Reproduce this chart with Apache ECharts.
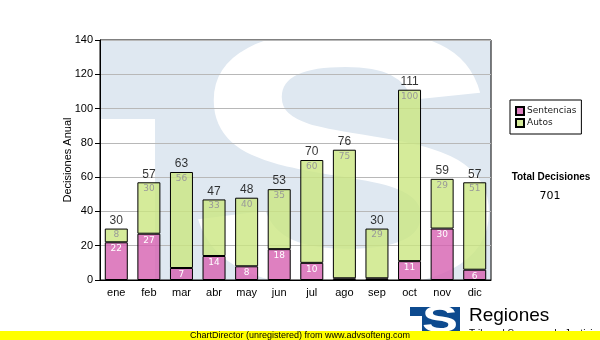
<!DOCTYPE html>
<html>
<head>
<meta charset="utf-8">
<script src="https://cdn.jsdelivr.net/npm/echarts@6/dist/echarts.min.js"></script>
<style>
  html, body { margin: 0; padding: 0; background: #fff; }
  #chart { width: 600px; height: 340px; }
</style>
</head>
<body>
<div id="chart"></div>
<script>
// Monthly decisions, split into sentencias and autos
const months = ['ene', 'feb', 'mar', 'abr', 'may', 'jun', 'jul', 'ago', 'sep', 'oct', 'nov', 'dic'];
const sentencias = [22, 27, 7, 14, 8, 18, 10, 1, 1, 11, 30, 6];
const autos = [8, 30, 56, 33, 40, 35, 60, 75, 29, 100, 29, 51];
const yTicks = [0, 20, 40, 60, 80, 100, 120, 140];

const totals = months.map((m, i) => sentencias[i] + autos[i]);
const grandTotal = totals.reduce((a, b) => a + b, 0);

const PINK = 'rgba(214, 96, 176, 0.8)';
const GREEN = 'rgba(202, 230, 129, 0.8)';
const LABEL_FONT = '"DejaVu Sans", Verdana, sans-serif';
const AXIS_FONT = '"Liberation Sans", Arial, sans-serif';

// small segments carry no inner label
const innerLabel = p => (p.value >= 5 ? String(p.value) : '');

const chart = echarts.init(document.getElementById('chart'), null, { renderer: 'canvas' });

const plot = { left: 100, top: 40, right: 491, bottom: 280 };

chart.setOption({
  animation: false,
  backgroundColor: '#fff',
  grid: {
    left: plot.left, top: plot.top, right: 600 - plot.right, bottom: 340 - plot.bottom,
    show: true, borderColor: '#000', borderWidth: 1, backgroundColor: 'transparent'
  },
  legend: {
    orient: 'vertical',
    left: 510, top: 100,
    padding: [6, 5, 6, 5],
    itemGap: 2,
    itemWidth: 8, itemHeight: 8,
    icon: 'rect',
    borderColor: '#000', borderWidth: 1,
    textStyle: { fontFamily: LABEL_FONT, fontSize: 9, color: '#222', padding: [0, 0, 0, -2] },
    data: ['Sentencias', 'Autos']
  },
  xAxis: {
    type: 'category',
    data: months,
    axisLine: { lineStyle: { color: '#000', width: 1 } },
    axisTick: { alignWithLabel: true, length: 4, lineStyle: { color: '#000' } },
    axisLabel: { color: '#000', fontFamily: AXIS_FONT, fontSize: 11, margin: 7 }
  },
  yAxis: {
    type: 'value',
    min: yTicks[0], max: yTicks[yTicks.length - 1], interval: 20,
    name: 'Decisiones Anual',
    nameLocation: 'middle',
    nameGap: 27,
    nameMoveOverlap: false,
    nameTextStyle: { fontFamily: AXIS_FONT, fontSize: 11, color: '#000' },
    axisLine: { show: true, lineStyle: { color: '#000', width: 1 } },
    axisTick: { show: true, length: 5, lineStyle: { color: '#000' } },
    axisLabel: { color: '#000', fontFamily: AXIS_FONT, fontSize: 11, margin: 7 },
    splitLine: { lineStyle: { color: '#b8b8b8', width: 1 } }
  },
  series: [
    {
      name: 'Sentencias', type: 'bar', stack: 'total', barWidth: 23, z: 3,
      data: sentencias,
      itemStyle: { color: PINK, borderColor: '#000', borderWidth: 1 },
      label: {
        show: true, position: 'insideTop', distance: 2, formatter: innerLabel,
        color: '#fff', fontFamily: LABEL_FONT, fontSize: 9
      }
    },
    {
      name: 'Autos', type: 'bar', stack: 'total', barWidth: 23, z: 3,
      data: autos,
      itemStyle: { color: GREEN, borderColor: '#000', borderWidth: 1 },
      label: {
        show: true, position: 'insideTop', distance: 2, formatter: innerLabel,
        color: '#999', fontFamily: LABEL_FONT, fontSize: 9
      }
    },
    {
      name: 'Total', type: 'scatter', symbolSize: 0, z: 4,
      data: totals,
      silent: true,
      label: {
        show: true, position: 'top', distance: 2,
        color: '#000', fontFamily: AXIS_FONT, fontSize: 12
      }
    }
  ],
  graphic: [
    // faded logo behind the plot
    {
      type: 'rect', z: -10, silent: true,
      shape: { x: plot.left, y: plot.top, width: plot.right - plot.left, height: plot.bottom - plot.top },
      style: { fill: '#dfe8f1' }
    },
    {
      type: 'rect', z: -9, silent: true,
      shape: { x: plot.left, y: 119, width: 55, height: plot.bottom - 119 },
      style: { fill: '#fff' }
    },
    {
      type: 'text', z: -9, silent: true,
      x: 346, y: 184, scaleX: 1.33,
      style: {
        text: 'S', fill: '#fff', align: 'center', verticalAlign: 'middle',
        fontFamily: AXIS_FONT, fontWeight: 'bold', fontSize: 365
      }
    },
    // grand total on the right
    {
      type: 'text', x: 551, y: 177,
      style: {
        text: 'Total Decisiones', fill: '#000', align: 'center', verticalAlign: 'middle',
        fontFamily: AXIS_FONT, fontWeight: 'bold', fontSize: 10
      }
    },
    {
      type: 'text', x: 550, y: 196,
      style: {
        text: String(grandTotal), fill: '#000', align: 'center', verticalAlign: 'middle',
        fontFamily: LABEL_FONT, fontSize: 11
      }
    },
    // footer logo
    {
      type: 'rect', z: 50, shape: { x: 410, y: 307, width: 50, height: 33 },
      style: { fill: '#0d4a8e' }
    },
    {
      type: 'rect', z: 51, shape: { x: 410, y: 316, width: 12, height: 24 },
      style: { fill: '#fff' }
    },
    {
      type: 'text', z: 51, x: 440, y: 322, scaleX: 1.5,
      style: {
        text: 'S', fill: '#fff', align: 'center', verticalAlign: 'middle',
        fontFamily: AXIS_FONT, fontWeight: 'bold', fontSize: 36
      }
    },
    {
      type: 'text', z: 50, x: 469, y: 316,
      style: {
        text: 'Regiones', fill: '#000', align: 'left', verticalAlign: 'middle',
        fontFamily: AXIS_FONT, fontSize: 19
      }
    },
    {
      type: 'text', z: 50, x: 469, y: 329,
      style: {
        text: 'Tribunal Supremo de Justicia', fill: '#000', align: 'left', verticalAlign: 'top',
        fontFamily: AXIS_FONT, fontSize: 10
      }
    },
    // unregistered-build banner
    {
      type: 'rect', z: 60, shape: { x: 0, y: 331, width: 600, height: 9 },
      style: { fill: '#ffff00' }
    },
    {
      type: 'text', z: 61, x: 300, y: 335.5,
      style: {
        text: 'ChartDirector (unregistered) from www.advsofteng.com', fill: '#000',
        align: 'center', verticalAlign: 'middle', fontFamily: AXIS_FONT, fontSize: 9
      }
    }
  ]
});
</script>
</body>
</html>
